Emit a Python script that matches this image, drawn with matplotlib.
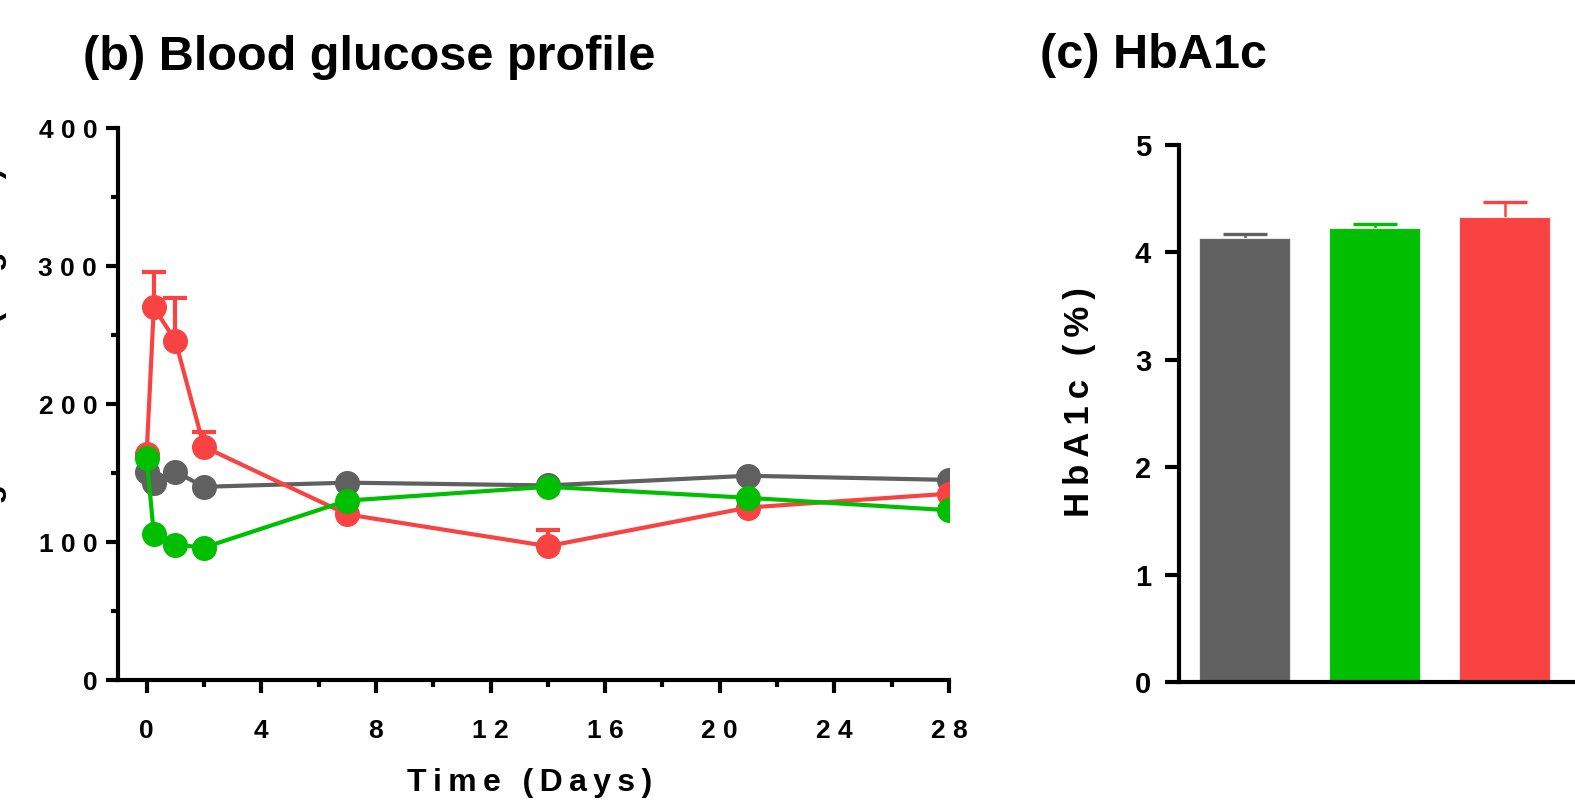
import numpy as np
import matplotlib
matplotlib.use("Agg")
from matplotlib import pyplot as plt
from matplotlib.ticker import MultipleLocator, FuncFormatter

plt.rcParams['font.family'] = ['Liberation Sans', 'DejaVu Sans']
plt.rcParams['font.weight'] = 'bold'

# datos
dias = [0, 0.25, 1, 2, 7, 14, 21, 28]
gris = [151, 143, 151, 140, 143, 141, 148, 145]
verde = [161, 106, 98, 96, 130, 140, 132, 123]
rojo = [164, 270, 246, 169, 120, 97, 125, 135]
rojo_err = [0, 26, 31, 11, 0, 12, 0, 0]

grupos = ['Control', 'Tratamiento A', 'Tratamiento B']
hba1c = [4.13, 4.23, 4.33]
hba1c_err = [0.04, 0.035, 0.14]

c_gris = '#606060'
c_verde = '#00bf00'
c_rojo = '#f94343'


def espaciado(s, sep=' '):
    # imitar el espaciado de letras de GraphPad
    return sep.join(s)


W, H = 1575, 800
fig = plt.figure(figsize=(W / 100, H / 100), dpi=100)

# ---- (b) perfil de glucosa ----
ax = fig.add_axes([118 / W, (H - 680) / H, 831 / W, 552 / H])
ax.plot(dias, gris, '-o', color=c_gris, lw=3, ms=17, zorder=2)
ax.errorbar(dias, rojo, yerr=[np.zeros(len(rojo_err)), rojo_err], fmt='-o', color=c_rojo,
            lw=3, ms=17, elinewidth=3, capsize=8.5, capthick=3, zorder=3)
ax.plot(dias, verde, '-o', color=c_verde, lw=3, ms=17, zorder=4)

ax.set_xlim(-1, 28)
ax.set_ylim(0, 400)
ax.spines['top'].set_visible(False)
ax.spines['right'].set_visible(False)
for s in ['left', 'bottom']:
    ax.spines[s].set_linewidth(3)
ax.xaxis.set_major_locator(MultipleLocator(4))
ax.xaxis.set_minor_locator(MultipleLocator(2))
ax.yaxis.set_major_locator(MultipleLocator(100))
ax.yaxis.set_minor_locator(MultipleLocator(50))
ax.tick_params(which='major', length=9, width=3, labelsize=19)
ax.tick_params(which='minor', length=5, width=3)
ax.tick_params(axis='x', which='major', pad=19)
ax.tick_params(axis='y', which='major', pad=6)
fmt = FuncFormatter(lambda v, p: espaciado(str(int(v))))
ax.xaxis.set_major_formatter(fmt)
ax.yaxis.set_major_formatter(fmt)
ax.set_ylabel(espaciado('Blood glucose (mg/dL)', '\u2009'), fontsize=23, fontweight='bold')
ax.yaxis.set_label_coords(-0.133, 0.5)
fig.text(530 / W, (H - 783) / H, espaciado('Time (Days)', '\u2009'), fontsize=23,
         fontweight='bold', ha='center', va='center')
fig.text(83 / W, (H - 70) / H, '(b) Blood glucose profile', fontsize=35,
         fontweight='bold', ha='left', va='baseline')

# ---- (c) HbA1c ----
bx = fig.add_axes([1179 / W, (H - 682) / H, (W - 1179) / W, 537 / H])
x = np.arange(len(grupos))
colores = [c_gris, c_verde, c_rojo]
bx.bar(x, hba1c, width=0.7, color=colores, edgecolor='#e8e8e8', linewidth=0.8, zorder=2)
for xi, v, e, c in zip(x, hba1c, hba1c_err, colores):
    eb = bx.errorbar(xi, v, yerr=[[0], [e]], color=c, elinewidth=1.8, capsize=16,
                     capthick=2.4, zorder=1)
    eb[1][0].set_visible(False)  # sin tapa inferior
bx.set_xlim(-0.505, 2.54)
bx.set_ylim(0, 5)
bx.spines['top'].set_visible(False)
bx.spines['right'].set_visible(False)
for s in ['left', 'bottom']:
    bx.spines[s].set_linewidth(3)
bx.set_xticks([])
bx.yaxis.set_major_locator(MultipleLocator(1))
bx.tick_params(axis='y', length=10, width=3, labelsize=21, pad=10)
fig.text(1080 / W, (H - 402) / H, espaciado('HbA1c (%)', '\u2009'), fontsize=25,
         fontweight='bold', rotation=90, ha='center', va='center')
fig.text(1040 / W, (H - 68) / H, '(c) HbA1c', fontsize=35,
         fontweight='bold', ha='left', va='baseline')

fig.savefig('out.png', dpi=100)
